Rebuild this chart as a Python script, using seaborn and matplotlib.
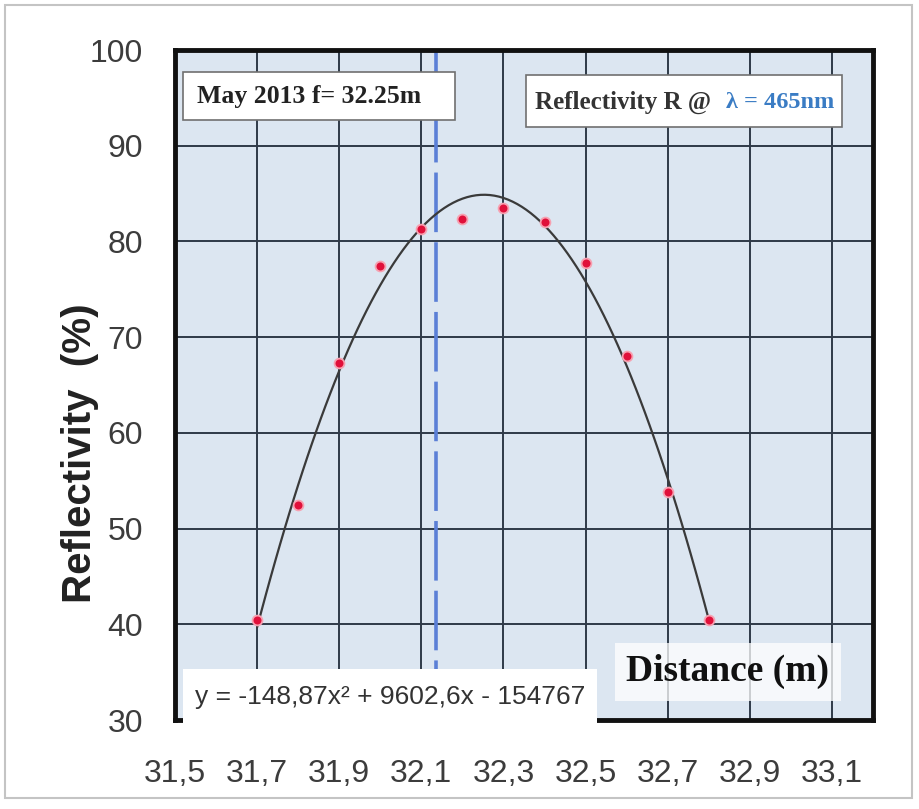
import numpy as np
import pandas as pd
import seaborn as sns
import matplotlib.pyplot as plt
from matplotlib.patches import Rectangle

# ---- data ----
distance = [31.7, 31.8, 31.9, 32.0, 32.1, 32.2, 32.3, 32.4, 32.5, 32.6, 32.7, 32.8]
reflectivity = [40.5, 52.5, 67.3, 77.4, 81.3, 82.3, 83.5, 82.0, 77.7, 68.0, 53.8, 40.5]
focus_line = 32.135
x_ticks = [31.5, 31.7, 31.9, 32.1, 32.3, 32.5, 32.7, 32.9, 33.1]
x_tick_labels = ["31,5", "31,7", "31,9", "32,1", "32,3", "32,5", "32,7", "32,9", "33,1"]
y_ticks = [30, 40, 50, 60, 70, 80, 90, 100]
y_label = "Reflectivity  (%)"
x_label = "Distance (m)"
title_box = "May 2013 f= 32.25m"
legend_black = "Reflectivity R @ "
legend_blue = "\u03bb = 465nm"
equation_text = "y = -148,87x\u00b2 + 9602,6x - 154767"

df = pd.DataFrame({"distance": distance, "reflectivity": reflectivity})

sns.set_style("whitegrid", {
    "axes.facecolor": "#dce6f1",
    "grid.color": "#2f3a48",
    "axes.edgecolor": "#111111",
})
plt.rcParams["font.family"] = ["Liberation Sans", "DejaVu Sans"]
serif = ["Liberation Serif", "DejaVu Serif"]

fig = plt.figure(figsize=(9.19, 8.09), dpi=100)
fig.patch.set_facecolor("white")
fig.patches.append(Rectangle((5 / 919, 1 - 798 / 809), 907 / 919, 793 / 809, transform=fig.transFigure,
                             fill=False, edgecolor="#c4c4c4", linewidth=1.5))
ax = fig.add_axes([175 / 919, 1 - 720 / 809, 698 / 919, 670 / 809])

ax.set_xlim(31.5, 33.2)
ax.set_ylim(30, 100)
ax.set_xticks(x_ticks)
ax.set_xticklabels(x_tick_labels)
ax.set_yticks(y_ticks)
ax.grid(True, color="#2f3a48", linewidth=1.4)
ax.set_axisbelow(True)

ax.axvline(focus_line, color="#5b7fd6", linewidth=2.6, dashes=(16.5, 2.8), zorder=2)

sns.regplot(data=df, x="distance", y="reflectivity", order=2, ci=None, scatter=False,
            ax=ax, line_kws={"color": "#3a3a3a", "linewidth": 1.6, "zorder": 3})
sns.scatterplot(data=df, x="distance", y="reflectivity", ax=ax, color="#e0103a",
                s=50, edgecolor="#f7a0b0", linewidth=1.3, zorder=4)

for sp in ax.spines.values():
    sp.set_linewidth(3.5)
    sp.set_color("#111111")

ax.tick_params(axis="both", length=0, labelsize=23, colors="#3c3c3c")
ax.tick_params(axis="y", pad=23)
ax.tick_params(axis="x", pad=28)
ax.set_xlabel("")
ax.set_ylabel("")
fig.text(80 / 919, 1 - 453 / 809, y_label, rotation=90, ha="center", va="center",
         fontsize=29, fontweight="bold", color="#222222")

# top-left box
ax.add_patch(Rectangle((0.0115, 0.896), 0.39, 0.071, transform=ax.transAxes, facecolor="white",
                       edgecolor="#707070", linewidth=1.2, zorder=6))
ax.text(0.0315, 0.931, title_box, transform=ax.transAxes, ha="left", va="center",
        fontsize=18.5, fontweight="bold", family=serif, color="#222222", zorder=7)

# top-right box
ax.add_patch(Rectangle((0.503, 0.885), 0.452, 0.077, transform=ax.transAxes, facecolor="white",
                       edgecolor="#707070", linewidth=1.2, zorder=6))
ax.text(0.516, 0.922, legend_black, transform=ax.transAxes, ha="left", va="center",
        fontsize=18, fontweight="bold", family=serif, color="#333333", zorder=7)
ax.text(0.789, 0.922, legend_blue, transform=ax.transAxes, ha="left", va="center",
        fontsize=17.5, fontweight="bold", family=serif, color="#3a7cc4", zorder=7)

# equation box
ax.add_patch(Rectangle((0.011, -0.004), 0.594, 0.08, transform=ax.transAxes, facecolor="white",
                       edgecolor="none", zorder=6, clip_on=False))
ax.text(0.308, 0.034, equation_text, transform=ax.transAxes, ha="center", va="center",
        fontsize=19, color="#333333", zorder=7)

# x label box
ax.text(0.792, 0.072, x_label, transform=ax.transAxes, ha="center", va="center",
        fontsize=27, fontweight="bold", family=serif, color="#111111",
        bbox=dict(boxstyle="square,pad=0.3", facecolor="white", alpha=0.75, edgecolor="none"),
        zorder=6)

fig.savefig("out.png", dpi=100)
